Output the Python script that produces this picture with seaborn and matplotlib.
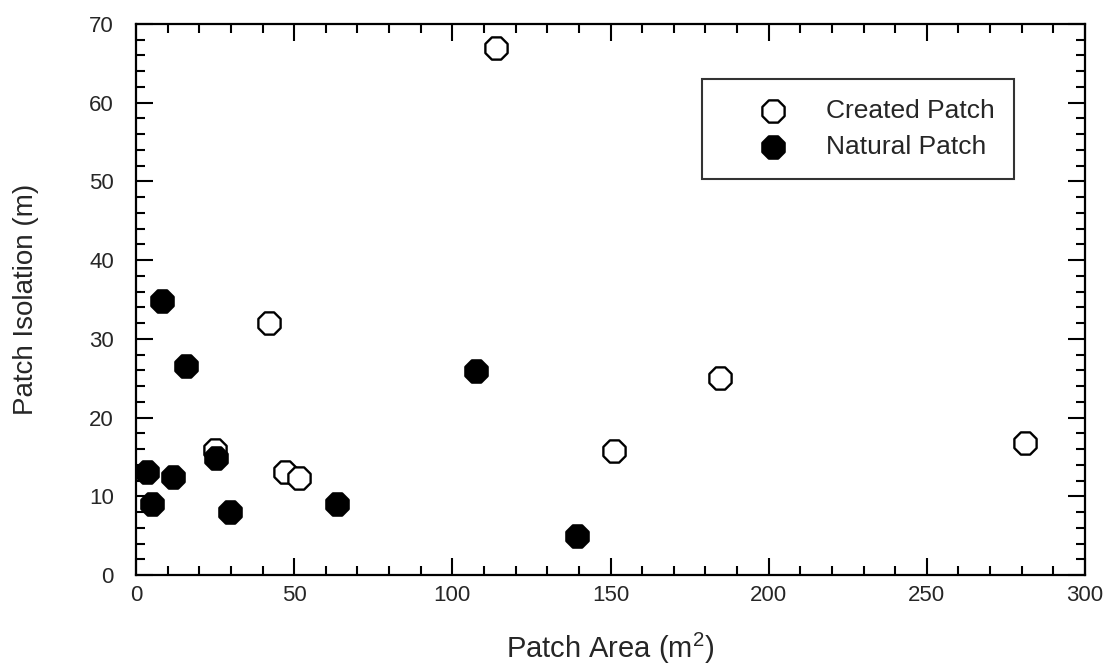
import matplotlib
matplotlib.use("Agg")
import matplotlib.pyplot as plt
import seaborn as sns
import pandas as pd
from matplotlib.ticker import MultipleLocator

created_area = [113.8, 42.0, 25.0, 47.1, 51.5, 151.1, 184.6, 281.0]
created_isolation = [67.0, 32.0, 15.9, 13.1, 12.3, 15.8, 25.0, 16.8]

natural_area = [8.2, 15.8, 107.5, 3.5, 11.7, 25.3, 5.1, 29.7, 63.5, 139.4]
natural_isolation = [34.8, 26.6, 25.9, 13.1, 12.5, 14.9, 9.0, 8.0, 9.0, 5.0]

series_labels = ["Created Patch", "Natural Patch"]
x_label = "Patch Area (m$^2$)"
y_label = "Patch Isolation (m)"

sns.set_style("white")
plt.rcParams['font.family'] = ['Liberation Sans', 'DejaVu Sans']
plt.rcParams['mathtext.fontset'] = 'custom'
plt.rcParams['mathtext.rm'] = 'Liberation Sans'

df_c = pd.DataFrame({"area": created_area, "iso": created_isolation})
df_n = pd.DataFrame({"area": natural_area, "iso": natural_isolation})

fig = plt.figure(figsize=(11.2, 6.7), dpi=100)
ax = fig.add_axes([136/1120, 1-575/670, 949/1120, 551/670])

sns.scatterplot(data=df_c, x="area", y="iso", ax=ax, marker="8", s=300,
                facecolor="white", edgecolor="black", linewidth=1.7,
                label=series_labels[0], zorder=3)
sns.scatterplot(data=df_n, x="area", y="iso", ax=ax, marker="8", s=300,
                color="black", edgecolor="black", linewidth=1.7,
                label=series_labels[1], zorder=3)

ax.set_xlim(0, 300)
ax.set_ylim(0, 70)
ax.xaxis.set_major_locator(MultipleLocator(50))
ax.xaxis.set_minor_locator(MultipleLocator(10))
ax.yaxis.set_major_locator(MultipleLocator(10))
ax.yaxis.set_minor_locator(MultipleLocator(2))
ax.tick_params(which="both", direction="in", top=True, right=True,
               bottom=True, left=True, color="black", width=1.5)
ax.tick_params(which="major", length=12, labelsize=16, pad=7)
ax.tick_params(which="minor", length=6.5)
ax.tick_params(axis="y", which="major", pad=16)
for sp in ax.spines.values():
    sp.set_color("black")
    sp.set_linewidth(1.6)
    sp.set_visible(True)

ax.set_xlabel(x_label, fontsize=21, labelpad=18)
ax.set_ylabel(y_label, fontsize=20, labelpad=36)

leg = ax.legend(loc="upper left", bbox_to_anchor=(0.596, 0.900),
                frameon=True, fancybox=False, edgecolor="black",
                fontsize=19, borderpad=0.75, handletextpad=0.05,
                labelspacing=0.45, borderaxespad=0, markerscale=1.0,
                handlelength=3.9)
leg.get_frame().set_linewidth(1.5)

fig.savefig("out.png", dpi=100)
